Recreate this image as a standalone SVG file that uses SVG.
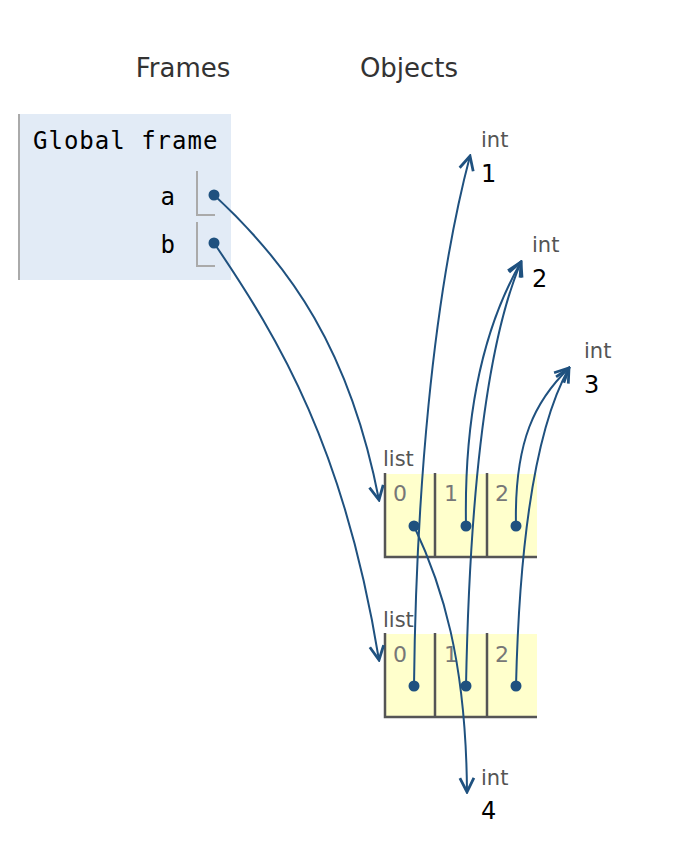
<svg xmlns="http://www.w3.org/2000/svg" width="700" height="848" viewBox="0 0 700 848">
<style>
.hdr{font-family:"DejaVu Sans",Verdana,sans-serif;font-size:26px;fill:#333}
.mono{font-family:"DejaVu Sans Mono",monospace;font-size:24px;fill:#000}
.lbl{font-family:"DejaVu Sans",Verdana,sans-serif;font-size:21px;fill:#555}
.idx{font-family:"DejaVu Sans",Verdana,sans-serif;font-size:22px;fill:#777}
.val{font-family:"DejaVu Sans",Verdana,sans-serif;font-size:24px;fill:#000}
.ptrbox{fill:none;stroke:#aaa;stroke-width:2}
.dot{fill:#1f517f}
.cell{fill:#ffffcc}
.bord{stroke:#555;stroke-width:2.5;fill:none}
.conn path{fill:none;stroke:#1f517f;stroke-width:2;marker-end:url(#arr)}
</style>
<defs>
<marker id="arr" viewBox="-16 -9 18 18" markerWidth="18" markerHeight="18" refX="0" refY="0" orient="auto" markerUnits="userSpaceOnUse">
<path d="M-14,-7 L0,0 L-14,7" fill="none" stroke="#1f517f" stroke-width="2.8" stroke-linejoin="miter"/>
</marker>
</defs>
<rect width="700" height="848" fill="#fff"/>
<text class="hdr" x="183" y="77" text-anchor="middle">Frames</text>
<text class="hdr" x="409" y="77" text-anchor="middle">Objects</text>

<g id="global-frame">
<rect x="18" y="114" width="213" height="166" fill="#e2ebf6"/>
<rect x="18" y="114" width="2" height="166" fill="#aaa"/>
<text class="mono" x="33" y="149" letter-spacing="1">Global frame</text>
<text class="mono" x="175" y="205" text-anchor="end" font-size="25">a</text>
<text class="mono" x="175" y="253" text-anchor="end" font-size="25">b</text>
<path class="ptrbox" d="M197,171 V215 H215"/>
<path class="ptrbox" d="M197,222 V266 H215"/>
</g>

<g id="list1">
<text class="lbl" x="383" y="466">list</text>
<rect class="cell" x="384" y="474" width="153" height="83"/>
<path class="bord" d="M385,473 V557 H537 M435,473 V557 M487,473 V557"/>
<text class="idx" x="393" y="501">0</text>
<text class="idx" x="444" y="501">1</text>
<text class="idx" x="495" y="501">2</text>
</g>

<g id="list2">
<text class="lbl" x="383" y="627">list</text>
<rect class="cell" x="384" y="634" width="153" height="83"/>
<path class="bord" d="M385,633 V717 H537 M435,633 V717 M487,633 V717"/>
<text class="idx" x="393" y="662">0</text>
<text class="idx" x="444" y="662">1</text>
<text class="idx" x="495" y="662">2</text>
</g>

<g id="int1"><text class="lbl" x="481" y="147">int</text><text class="val" x="481" y="182">1</text></g>
<g id="int2"><text class="lbl" x="532" y="252">int</text><text class="val" x="532" y="287">2</text></g>
<g id="int3"><text class="lbl" x="584" y="358">int</text><text class="val" x="584" y="393">3</text></g>
<g id="int4"><text class="lbl" x="481" y="785">int</text><text class="val" x="481" y="819">4</text></g>

<g id="connectors" class="conn">
<path d="M214,195 C290,265 350,350 379,500"/>
<path d="M214,243 C280,340 345,450 379,660"/>
<path d="M414,686 C416,500 432,300 470,156"/>
<path d="M414,526 C442,585 466,660 467,792"/>
<path d="M466,526 C464,420 482,330 521,262"/>
<path d="M466,686 C470,480 488,340 521,262"/>
<path d="M516,526 C514,440 536,400 569,368"/>
<path d="M516,686 C520,520 540,420 569,368"/>
</g>

<g id="dots">
<circle class="dot" cx="214" cy="195" r="5.5"/>
<circle class="dot" cx="214" cy="243" r="5.5"/>
<circle class="dot" cx="414" cy="526" r="5.5"/>
<circle class="dot" cx="466" cy="526" r="5.5"/>
<circle class="dot" cx="516" cy="526" r="5.5"/>
<circle class="dot" cx="414" cy="686" r="5.5"/>
<circle class="dot" cx="466" cy="686" r="5.5"/>
<circle class="dot" cx="516" cy="686" r="5.5"/>
</g>
</svg>
